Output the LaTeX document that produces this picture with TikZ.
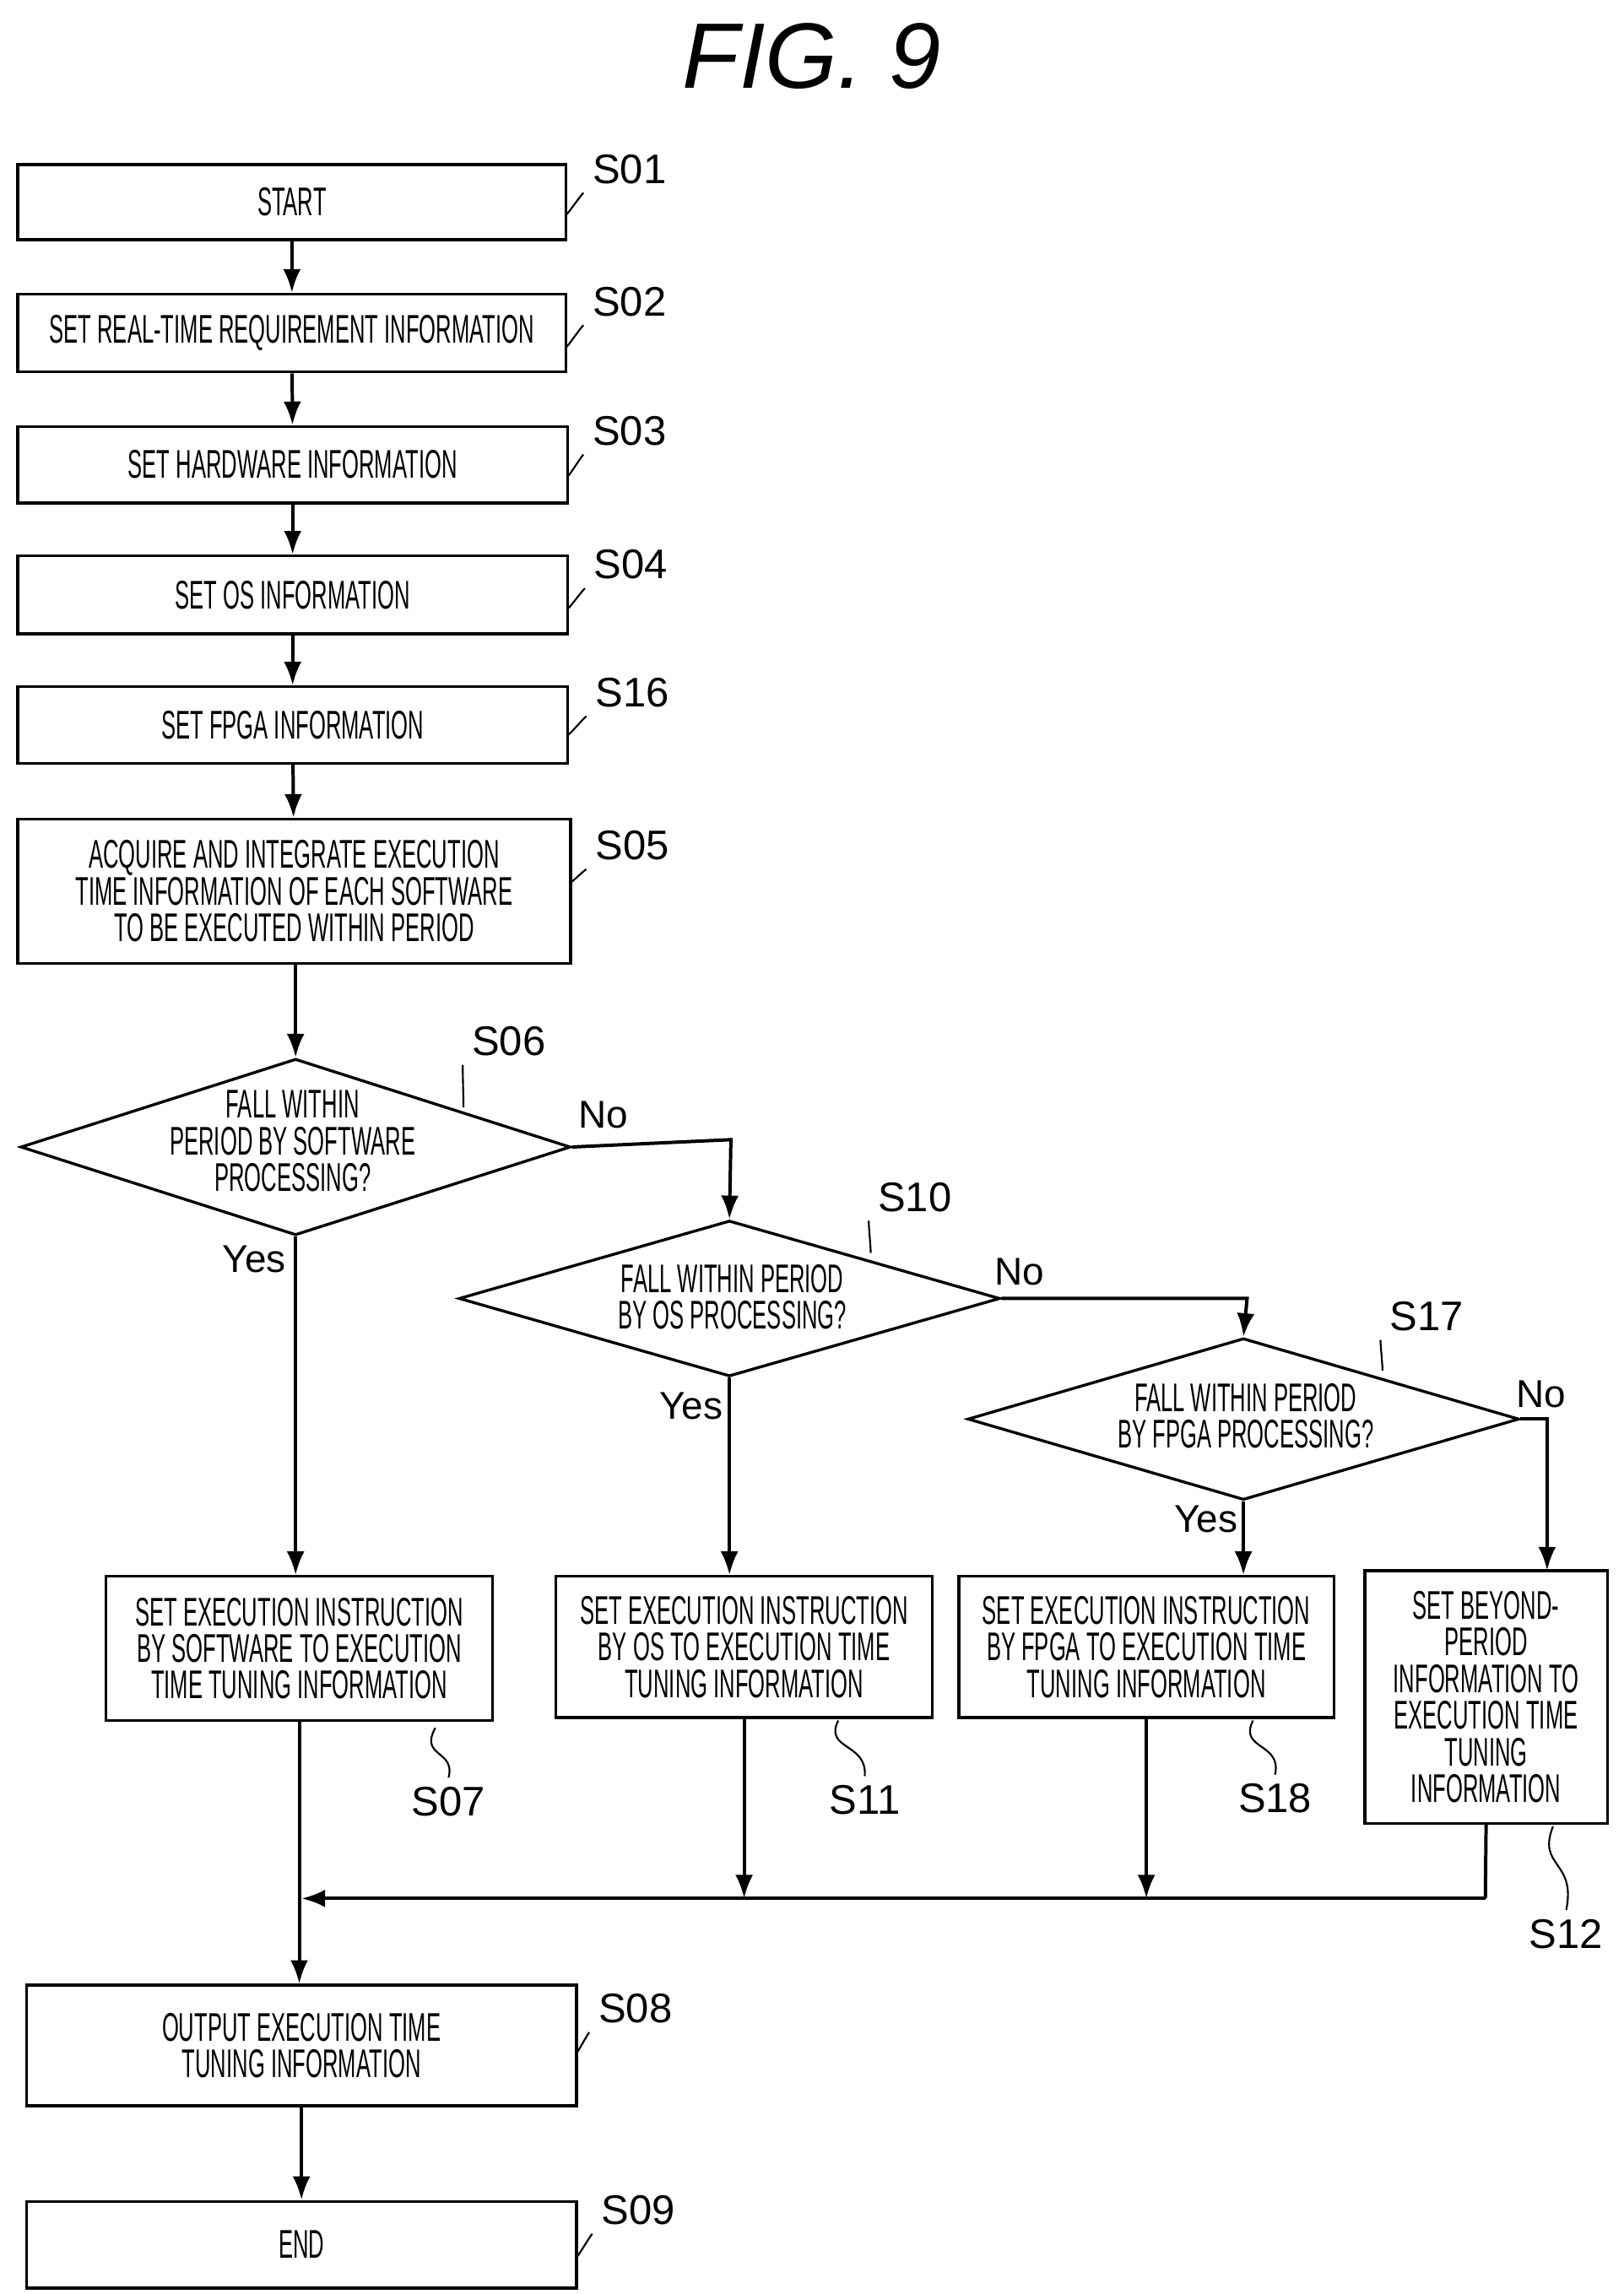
\documentclass[tikz,border=0pt]{standalone}
\usepackage{fontspec}
\setmainfont{Liberation Sans}
\newfontfamily\narrowfont[FakeStretch=0.54]{Liberation Sans}
\usetikzlibrary{arrows.meta,shapes.geometric}
\tikzset{
  box/.style={draw, line width=1.1pt, inner sep=0pt, align=center, font=\narrowfont\fontsize{15.5}{14.2}\selectfont},
  dec/.style={draw, line width=1.1pt, diamond, inner sep=0pt},
  dtext/.style={align=center, font=\narrowfont\fontsize{15.5}{14.2}\selectfont},
  steplabel/.style={font=\fontsize{16}{16}\selectfont},
  ans/.style={font=\fontsize{15}{15}\selectfont},
  flow/.style={line width=1.3pt, -{Latex[length=3.2mm,width=2.4mm]}},
  line/.style={line width=1.3pt},
  lead/.style={line width=0.7pt}
}
\newcommand{\leadto}[2]{\draw[lead] (#1) .. controls +(0.5,0.45) and +(-0.5,-0.45) .. (#2);}
\begin{document}
\begin{tikzpicture}[x=0.02cm,y=-0.02cm]
\useasboundingbox (0,0) rectangle (1104,1560);
\node[font=\itshape\fontsize{36}{36}\selectfont] (title) at (552,38) {FIG. 9};
% main column
\node[box, minimum width=7.46cm, minimum height=1.02cm] (s01) at (198.5,137.5) {START};
\node[box, minimum width=7.46cm, minimum height=1.06cm] (s02) at (198.5,226.5) {SET REAL-TIME REQUIREMENT INFORMATION};
\node[box, minimum width=7.48cm, minimum height=1.04cm] (s03) at (199,316) {SET HARDWARE INFORMATION};
\node[box, minimum width=7.48cm, minimum height=1.06cm] (s04) at (199,404.5) {SET OS INFORMATION};
\node[box, minimum width=7.48cm, minimum height=1.04cm] (s16) at (199,493) {SET FPGA INFORMATION};
\node[box, minimum width=7.52cm, minimum height=1.96cm] (s05) at (200,606) {ACQUIRE AND INTEGRATE EXECUTION\\TIME INFORMATION OF EACH SOFTWARE\\TO BE EXECUTED WITHIN PERIOD};
% decisions
\node[dec, minimum width=7.48cm, minimum height=2.4cm] (s06) at (201,780) {};
\node[dtext] at (199,776) {FALL WITHIN\\PERIOD BY SOFTWARE\\PROCESSING?};
\node[dec, minimum width=7.36cm, minimum height=2.12cm] (s10) at (496,883) {};
\node[dtext] at (498,882) {FALL WITHIN PERIOD\\BY OS PROCESSING?};
\node[dec, minimum width=7.5cm, minimum height=2.2cm] (s17) at (845.5,965) {};
\node[dtext] at (847,963) {FALL WITHIN PERIOD\\BY FPGA PROCESSING?};
% result boxes
\node[box, minimum width=5.26cm, minimum height=1.96cm] (s07) at (203.5,1121) {SET EXECUTION INSTRUCTION\\BY SOFTWARE TO EXECUTION\\TIME TUNING INFORMATION};
\node[box, minimum width=5.12cm, minimum height=1.92cm] (s11) at (506,1120) {SET EXECUTION INSTRUCTION\\BY OS TO EXECUTION TIME\\TUNING INFORMATION};
\node[box, minimum width=5.10cm, minimum height=1.92cm] (s18) at (779.5,1120) {SET EXECUTION INSTRUCTION\\BY FPGA TO EXECUTION TIME\\TUNING INFORMATION};
\node[box, minimum width=3.3cm, minimum height=3.44cm] (s12) at (1010.5,1154) {SET BEYOND-\\PERIOD\\INFORMATION TO\\EXECUTION TIME\\TUNING\\INFORMATION};
\node[box, minimum width=7.48cm, minimum height=1.64cm] (s08) at (205,1391) {OUTPUT EXECUTION TIME\\TUNING INFORMATION};
\node[box, minimum width=7.48cm, minimum height=1.18cm] (s09) at (205,1526.5) {END};
% connectors
\draw[flow] (s01) -- (s02);
\draw[flow] (s02) -- (s03);
\draw[flow] (s03) -- (s04);
\draw[flow] (s04) -- (s16);
\draw[flow] (s16) -- (s05);
\draw[flow] (s05.south -| s06.north) -- (s06.north);
\draw[flow] (s06.south) -- (s06.south |- s07.north);
\draw[flow] (s06.east) -- (497,775) -- (s10.north);
\draw[flow] (s10.south) -- (s10.south |- s11.north);
\draw[flow] (s10.east) -- (848,883) -- (s17.north);
\draw[flow] (s17.south) -- (s17.south |- s18.north);
\draw[flow] (s17.east) -- (1052,965) -- (1052,1068);
\coordinate (merge) at (1010,1291);
\draw[line] (s12.south) -- (merge);
\draw[flow] (merge) -- (205,1291);
\draw[flow] (s18.south) -- (s18.south |- merge);
\draw[flow] (s11.south) -- (s11.south |- merge);
\draw[flow] (s07.south) -- (s07.south |- s08.north);
\draw[flow] (s08) -- (s09);
% answers
\node[ans] (n06) at (410,758) {No};
\node[ans] (y06) at (173,856) {Yes};
\node[ans] (n10) at (693,865) {No};
\node[ans] (y10) at (470,956) {Yes};
\node[ans] (n17) at (1048,948) {No};
\node[ans] (y17) at (820,1033) {Yes};
% step labels
\node[steplabel] (l01) at (428,115) {S01};
\node[steplabel] (l02) at (428,205) {S02};
\node[steplabel] (l03) at (428,293) {S03};
\node[steplabel] (l04) at (429,384) {S04};
\node[steplabel] (l16) at (430,471) {S16};
\node[steplabel] (l05) at (430,575) {S05};
\node[steplabel] (l06) at (346,708) {S06};
\node[steplabel] (l10) at (622,814) {S10};
\node[steplabel] (l17) at (970,895) {S17};
\node[steplabel] (l07) at (305,1225) {S07};
\node[steplabel] (l11) at (588,1224) {S11};
\node[steplabel] (l18) at (867,1223) {S18};
\node[steplabel] (l12) at (1065,1315) {S12};
\node[steplabel] (l08) at (432,1366) {S08};
\node[steplabel] (l09) at (434,1503) {S09};
\leadto{385,146}{l01.south west}
\leadto{385,236}{l02.south west}
\leadto{386,324}{l03.south west}
\leadto{386,414}{l04.south west}
\leadto{386,500}{l16.south west}
\leadto{388,600}{l05.south west}
\leadto{315,753}{l06.south west}
\leadto{592,852}{l10.south west}
\leadto{940,932}{l17.south west}
\draw[lead] (296,1175) .. controls (285,1195) and (310,1190) .. (l07.north);
\draw[lead] (570,1170) .. controls (560,1190) and (590,1185) .. (l11.north);
\draw[lead] (852,1170) .. controls (842,1190) and (872,1185) .. (l18.north);
\draw[lead] (1056,1242) .. controls (1045,1270) and (1072,1265) .. (l12.north);
\leadto{392,1396}{l08.south west}
\leadto{392,1535}{l09.south west}
\end{tikzpicture}
\end{document}
